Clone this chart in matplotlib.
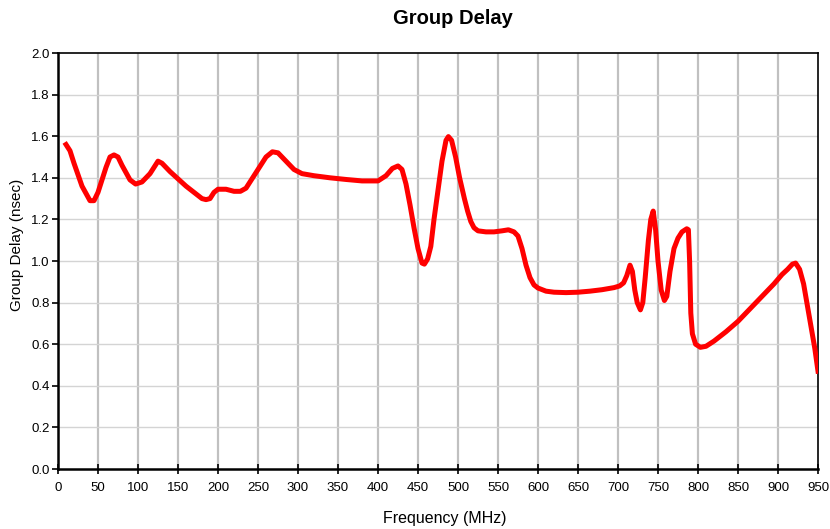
import numpy as np
import matplotlib.pyplot as plt

plt.rcParams['font.family'] = ['Liberation Sans', 'DejaVu Sans']

# Group delay curve (MHz, nsec)
freq = [10, 15, 20, 30, 40, 45, 50, 55, 60, 65, 70, 75, 80, 90, 97, 105, 115,
        125, 130, 140, 150, 160, 170, 180, 185, 190, 195, 200, 210, 220, 228,
        235, 240, 250, 260, 268, 275, 285, 295, 305, 320, 340, 360, 380, 400,
        410, 418, 425, 430, 435, 440, 445, 450, 455, 458, 462, 466, 470, 475,
        480, 485, 488, 492, 497, 502, 508, 512, 516, 520, 525, 535, 545, 555,
        563, 570, 575, 580, 585, 590, 595, 600, 610, 620, 635, 650, 665, 680,
        695, 702, 707, 711, 715, 718, 721, 724, 728, 731, 734, 738, 741, 744,
        747, 750, 754, 758, 761, 765, 770, 775, 780, 786, 788, 789.5, 791, 793,
        797, 803, 810, 820, 835, 850, 865, 880, 895, 905, 912, 918, 922, 927,
        932, 937, 942, 946, 950]
delay = [1.56, 1.53, 1.47, 1.36, 1.29, 1.29, 1.33, 1.39, 1.45, 1.50, 1.51,
         1.50, 1.46, 1.39, 1.37, 1.38, 1.42, 1.48, 1.47, 1.43, 1.395, 1.36,
         1.33, 1.30, 1.295, 1.30, 1.33, 1.345, 1.345, 1.335, 1.335, 1.35,
         1.38, 1.44, 1.50, 1.525, 1.52, 1.48, 1.44, 1.42, 1.41, 1.40, 1.392,
         1.385, 1.385, 1.41, 1.445, 1.457, 1.44, 1.37, 1.27, 1.16, 1.06, 0.99,
         0.985, 1.01, 1.07, 1.20, 1.34, 1.48, 1.58, 1.598, 1.58, 1.50, 1.40,
         1.30, 1.24, 1.19, 1.16, 1.145, 1.14, 1.14, 1.145, 1.15, 1.14, 1.12,
         1.06, 0.98, 0.92, 0.885, 0.87, 0.855, 0.85, 0.848, 0.85, 0.855, 0.862,
         0.872, 0.88, 0.895, 0.93, 0.98, 0.95, 0.86, 0.80, 0.765, 0.80, 0.92,
         1.10, 1.20, 1.24, 1.15, 1.00, 0.86, 0.81, 0.83, 0.95, 1.06, 1.11,
         1.14, 1.155, 1.15, 1.0, 0.75, 0.65, 0.60, 0.585, 0.59, 0.615, 0.66,
         0.71, 0.77, 0.83, 0.89, 0.935, 0.96, 0.985, 0.99, 0.96, 0.89, 0.78,
         0.67, 0.58, 0.47]

xticks = np.arange(0, 951, 50)
yticks = np.arange(0, 2.01, 0.2)

fig = plt.figure(figsize=(8.3, 5.29), dpi=100)
ax = fig.add_axes([58 / 830, 60 / 529, 760 / 830, 416 / 529])

ax.set_xlim(0, 950)
ax.set_ylim(0, 2.0)
ax.set_xticks(xticks)
ax.set_yticks(yticks)
ax.set_yticklabels([f'{v:.1f}' for v in yticks])

for x in xticks[1:-1]:
    ax.axvline(x, color='#c0c0c0', lw=1.6, zorder=1)
for y in yticks[1:-1]:
    ax.axhline(y, color='#d4d4d4', lw=1.0, zorder=1)

ax.plot(freq, delay, color='#ff0000', lw=3.6, solid_joinstyle='round', zorder=3)

ax.spines['left'].set_linewidth(1.8)
ax.spines['bottom'].set_linewidth(1.8)
ax.spines['top'].set_linewidth(1.2)
ax.spines['right'].set_linewidth(1.2)
ax.tick_params(axis='x', direction='inout', length=7, width=1.2, labelsize=9.5, pad=6)
ax.tick_params(axis='y', direction='out', length=4, width=1.2, labelsize=9.5, pad=2)

fig.text(453 / 830, 1 - 18 / 529, 'Group Delay', ha='center', va='center',
         fontsize=14.5, fontweight='bold')
fig.text(445 / 830, 1 - 519 / 529, 'Frequency (MHz)', ha='center', va='center',
         fontsize=11.5)
fig.text(17 / 830, 1 - 245 / 529, 'Group Delay (nsec)', ha='center', va='center',
         rotation=90, fontsize=11)

fig.savefig('out.png', dpi=100)
